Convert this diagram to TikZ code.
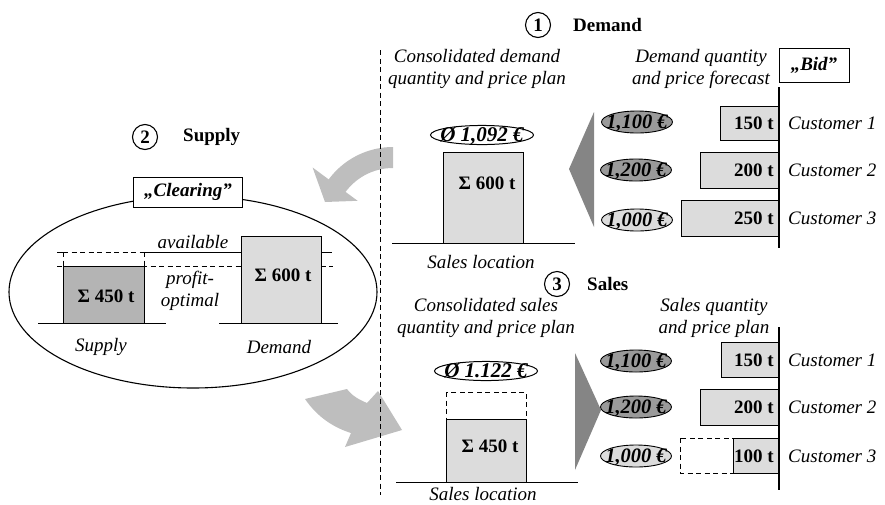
\documentclass[tikz,border=0pt]{standalone}
\usepackage{fontspec}
\setmainfont{Liberation Serif}
\usetikzlibrary{shapes.geometric}
\definecolor{barfill}{HTML}{DCDCDC}
\definecolor{supfill}{HTML}{B4B4B4}
\definecolor{pricedark}{HTML}{9A9A9A}
\definecolor{pricelight}{HTML}{DCDCDC}
\definecolor{trigray}{HTML}{858585}
\definecolor{arrowgray}{HTML}{BEBEBE}
\newcommand{\zw}[1]{\makebox[0pt]{#1}}
\begin{document}
\begin{tikzpicture}[x=1pt,y=-1pt,
  every node/.style={font=\fontsize{19}{22}\selectfont},
  itl/.style={font=\fontsize{19}{22}\selectfont\itshape, align=center, inner sep=0pt},
  bld/.style={font=\fontsize{19}{22}\selectfont\bfseries, inner sep=0pt},
  numcirc/.style={circle, draw, line width=1.1pt, minimum size=25pt, inner sep=0pt, font=\fontsize{19}{22}\selectfont\bfseries},
  barbox/.style={draw, line width=1pt, fill=barfill},
  dashbox/.style={draw, line width=1pt, dash pattern=on 5pt off 3.5pt},
  dline/.style={line width=0.9pt, dash pattern=on 5pt off 3.5pt},
  baseln/.style={line width=1pt},
  price/.style={ellipse, draw, line width=0.9pt, minimum width=71pt, minimum height=22pt, inner sep=0pt, text height=13.5pt, text depth=0pt, font=\fontsize{20.5}{22}\selectfont\bfseries\itshape},
  avg/.style={ellipse, draw, line width=1pt, fill=white, minimum width=103pt, minimum height=19pt, inner sep=0pt, text height=13.5pt, text depth=0pt, font=\fontsize{21}{22}\selectfont\bfseries\itshape},
  tagbox/.style={draw, line width=1pt, fill=white, inner sep=0pt, font=\fontsize{19}{22}\selectfont\bfseries\itshape},
]
\useasboundingbox (0,0) rectangle (885,504);

% ---------- gray curved arrows ----------
\fill[arrowgray] plot[domain=0:53.5,samples=25] ({393-80*sin(\x)},{227-80*cos(\x)})
  -- (312.6,167.5) -- (325,202) -- (357.6,200.8)
  -- plot[domain=53.5:0,samples=25] ({393-59*sin(\x)},{227-59*cos(\x)}) -- cycle;
\fill[arrowgray] (305,399) .. controls (318,418) and (335,428) .. (351,433)
  -- (345,447) -- (402,430) -- (378,391)
  -- (367,403) .. controls (360,400) and (352,396) .. (347,389) -- cycle;

% ---------- section titles ----------
\node[numcirc] (c1) at (538,25) {1};
\node[bld, anchor=west] (t1) at (573,25) {Demand};
\node[numcirc] (c2) at (145,137) {2};
\node[bld, anchor=west] (t2) at (183,137) {Supply};
\node[numcirc] (c3) at (557,284) {3};
\node[bld, anchor=west] (t3) at (587,284) {Sales};

% ---------- demand: consolidated ----------
\node[itl] (cdem) at (477,69) {Consolidated demand\\quantity and price plan};
\draw[barbox] (443,152) rectangle (523,243);
\node[bld] (s600a) at (487,183) {Σ 600 t};
\node[avg] (avg1) at (482,135) {\zw{Ø 1,092 €}};
\draw[baseln] (392,243) -- (575,243);
\node[itl] (loc1) at (481,262) {Sales location};

% ---------- demand: forecast ----------
\node[itl] (dq) at (701,69) {Demand quantity\\and price forecast};
\node[tagbox, minimum width=70pt, minimum height=34pt] (bid) at (814,65) {„Bid”};
\fill[trigray] (594,112) -- (594,227) -- (569,169) -- cycle;
\draw[barbox] (720,106) rectangle (779,140);
\draw[barbox] (700,152) rectangle (779,188);
\draw[barbox] (681,200) rectangle (779,236);
\draw[line width=1.2pt] (779,87) -- (779,248);
\node[bld, anchor=east] (d150) at (774,123) {150 t};
\node[bld, anchor=east] (d200) at (774,170) {200 t};
\node[bld, anchor=east] (d250) at (774,218) {250 t};
\node[itl, anchor=west] (dc1) at (788,123) {Customer 1};
\node[itl, anchor=west] (dc2) at (788,170) {Customer 2};
\node[itl, anchor=west] (dc3) at (788,218) {Customer 3};
\node[price, fill=pricedark] (dp1) at (637,122) {\zw{1,100 €}};
\node[price, fill=pricedark] (dp2) at (636,170) {\zw{1,200 €}};
\node[price, fill=pricelight] (dp3) at (637,220) {\zw{1,000 €}};

% ---------- sales: consolidated ----------
\node[itl] (csal) at (486,318) {Consolidated sales\\quantity and price plan};
\draw[dashbox] (446,392) rectangle (526,419);
\draw[barbox] (446,419) rectangle (526,482);
\node[bld] (s450b) at (490,446) {Σ 450 t};
\node[avg] (avg2) at (486,371) {\zw{Ø 1.122 €}};
\draw[baseln] (396,482) -- (578,482);
\node[itl] (loc2) at (483,494) {Sales location};

% ---------- sales: plan ----------
\node[itl] (sq) at (714,318) {Sales quantity\\and price plan};
\fill[trigray] (575,353) -- (575,470) -- (601,410) -- cycle;
\draw[barbox] (721,342) rectangle (779,377);
\draw[barbox] (700,389) rectangle (779,425);
\draw[dashbox] (680,438) rectangle (733,473);
\draw[barbox] (733,438) rectangle (779,473);
\draw[line width=1.2pt] (779,327) -- (779,490);
\node[bld, anchor=east] (s150) at (774,360) {150 t};
\node[bld, anchor=east] (s200) at (774,407) {200 t};
\node[bld, anchor=east] (s100) at (774,456) {100 t};
\node[itl, anchor=west] (sc1) at (788,360) {Customer 1};
\node[itl, anchor=west] (sc2) at (788,407) {Customer 2};
\node[itl, anchor=west] (sc3) at (788,456) {Customer 3};
\node[price, fill=pricedark] (sp1) at (636,361) {\zw{1,100 €}};
\node[price, fill=pricedark] (sp2) at (636,407) {\zw{1,200 €}};
\node[price, fill=pricelight] (sp3) at (636,456) {\zw{1,000 €}};

% ---------- supply: clearing ----------
\draw[line width=1.1pt] (193,292) ellipse [x radius=184, y radius=96];
\node[tagbox, minimum width=109pt, minimum height=30pt] (clr) at (188,192) {„Clearing”};
\draw[dline] (57,266) -- (333,266);
\draw[baseln] (57,252) -- (63,252);
\draw[dline] (63,252) -- (144,252);
\draw[baseln] (144,252) -- (332,252);
\draw[dline] (63,252) -- (63,266);
\draw[dline] (144,252) -- (144,266);
\draw[line width=1pt, fill=supfill] (63,266) rectangle (144,323);
\draw[barbox] (241,236) rectangle (321,323);
\draw[baseln] (38,323) -- (166,323);
\draw[baseln] (219,323) -- (338,323);
\node[itl] (avl) at (193,242) {available};
\node[itl] (prf) at (190,291) {profit-\\optimal};
\node[bld] (s450a) at (106,296) {Σ 450 t};
\node[bld] (s600b) at (283,275) {Σ 600 t};
\node[itl] (lsup) at (101,347) {Supply};
\node[itl] (ldem) at (279,347) {Demand};

% ---------- separator ----------
\draw[dline] (380,50) -- (380,495);
\end{tikzpicture}
\end{document}
